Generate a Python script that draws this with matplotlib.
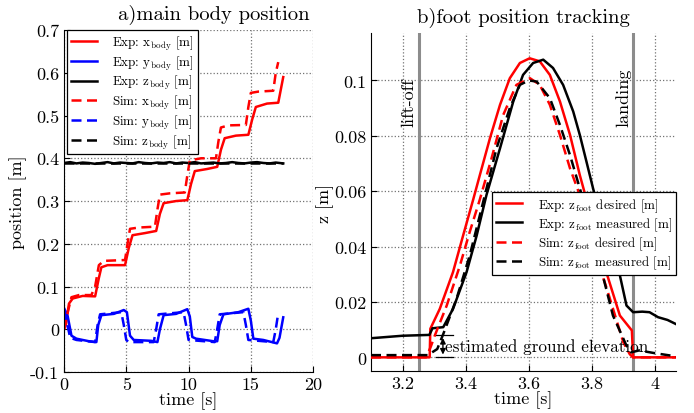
import numpy as np
import matplotlib
matplotlib.use("Agg")
import matplotlib.pyplot as plt
from matplotlib.ticker import FuncFormatter

plt.rcParams['font.family'] = ['cmr10', 'DejaVu Serif']
plt.rcParams['mathtext.fontset'] = 'cm'
plt.rcParams['axes.unicode_minus'] = False

# ---- a) main body position ----
t_xe = [0, 0.15, 0.4, 0.7, 1.5, 2.5, 2.8, 3.0, 3.5, 4.9, 5.2, 5.5, 6.5, 7.4, 7.7, 8.0, 9.0, 9.9,
        10.2, 10.5, 11.5, 12.3, 12.6, 12.9, 13.8, 14.8, 15.1, 15.4, 16.3, 17.2, 17.6]
x_exp = [0, 0.01, 0.06, 0.072, 0.078, 0.077, 0.12, 0.145, 0.15, 0.15, 0.19, 0.22, 0.225, 0.23, 0.27,
         0.295, 0.30, 0.302, 0.34, 0.37, 0.375, 0.38, 0.42, 0.447, 0.453, 0.455, 0.49, 0.52, 0.528,
         0.53, 0.59]
t_xs = [0, 0.3, 0.6, 1.2, 2.2, 2.5, 2.8, 3.2, 4.9, 5.1, 5.3, 6.0, 7.3, 7.5, 7.7, 8.5, 9.7, 9.9, 10.1,
        11.0, 12.2, 12.4, 12.6, 13.2, 14.6, 14.8, 15.0, 15.6, 16.8, 17.0, 17.2]
x_sim = [0, 0.04, 0.075, 0.08, 0.08, 0.1, 0.15, 0.16, 0.162, 0.2, 0.235, 0.238, 0.24, 0.28, 0.315,
         0.318, 0.32, 0.36, 0.395, 0.4, 0.4, 0.44, 0.472, 0.477, 0.478, 0.52, 0.553, 0.556, 0.558,
         0.60, 0.625]
t_ye = [0, 0.3, 0.6, 1.0, 2.0, 2.6, 2.75, 3.0, 4.0, 4.8, 5.05, 5.3, 5.6, 7.0, 7.5, 7.7, 8.0, 9.0,
        9.9, 10.1, 10.3, 10.6, 12.0, 12.3, 12.5, 12.8, 14.0, 14.8, 15.0, 15.2, 16.0, 17.1, 17.3, 17.6]
y_exp = [0.05, 0.03, -0.015, -0.022, -0.028, -0.03, 0.01, 0.033, 0.036, 0.045, 0.04, -0.015, -0.025,
         -0.027, -0.03, 0.0, 0.033, 0.036, 0.047, 0.03, -0.018, -0.022, -0.028, -0.028, 0.01, 0.035,
         0.04, 0.048, 0.02, -0.022, -0.025, -0.033, -0.02, 0.028]
t_ys = [0, 0.2, 0.5, 1.0, 2.5, 2.7, 2.9, 4.6, 4.8, 5.0, 5.2, 7.2, 7.4, 7.6, 9.6, 9.8, 10.0, 12.1,
        12.3, 12.5, 14.4, 14.6, 14.8, 16.8, 17.0, 17.2]
y_sim = [0.045, 0.02, -0.02, -0.025, -0.03, 0.01, 0.035, 0.04, 0.01, -0.025, -0.03, -0.03, 0.0,
         0.035, 0.04, 0.01, -0.025, -0.03, 0.0, 0.035, 0.04, 0.01, -0.025, -0.03, 0.0, 0.038]
t_z = [0, 0.5, 1.0, 1.5, 2.0, 2.5, 3.0, 3.5, 4.0, 4.5, 5.0, 5.5, 6.0, 6.5, 7.0, 7.5, 8.0, 8.5, 9.0,
       9.5, 10.0, 10.5, 11.0, 11.5, 12.0, 12.5, 13.0, 13.5, 14.0, 14.5, 15.0, 15.5, 16.0, 16.5,
       17.0, 17.6]
z_exp = [0.389, 0.391, 0.388, 0.39, 0.389, 0.387, 0.389, 0.391, 0.388, 0.39, 0.389, 0.388, 0.391,
         0.389, 0.388, 0.39, 0.389, 0.391, 0.388, 0.39, 0.389, 0.391, 0.388, 0.389, 0.39, 0.388,
         0.389, 0.391, 0.389, 0.388, 0.39, 0.391, 0.389, 0.388, 0.39, 0.388]
t_zs = [0, 17.6]
z_sim = [0.389, 0.389]

# ---- b) foot position tracking ----
t_de = [3.1, 3.286, 3.288, 3.318, 3.36, 3.392, 3.424, 3.445, 3.477, 3.509, 3.54, 3.572, 3.603,
        3.635, 3.667, 3.699, 3.731, 3.762, 3.794, 3.836, 3.889, 3.927, 3.931, 4.07]
z_de = [0, 0, 0.0103, 0.0175, 0.0308, 0.044, 0.057, 0.0658, 0.0791, 0.0912, 0.1008, 0.1063, 0.108,
        0.1069, 0.102, 0.0924, 0.0803, 0.0658, 0.0525, 0.0344, 0.0151, 0.0097, 0, 0]
t_me = [3.1, 3.2, 3.285, 3.295, 3.329, 3.36, 3.403, 3.435, 3.466, 3.509, 3.551, 3.582, 3.614, 3.646,
        3.677, 3.709, 3.741, 3.762, 3.783, 3.804, 3.846, 3.889, 3.91, 3.931, 3.96, 3.983, 4.01,
        4.04, 4.067]
z_me = [0.0069, 0.0078, 0.0081, 0.0105, 0.0109, 0.0175, 0.0308, 0.044, 0.0586, 0.0755, 0.0924,
        0.102, 0.1063, 0.1075, 0.1045, 0.0984, 0.0888, 0.0803, 0.0707, 0.061, 0.043, 0.0296,
        0.0187, 0.0163, 0.0165, 0.0163, 0.0145, 0.0135, 0.012]
t_ds = [3.1, 3.275, 3.29, 3.302, 3.34, 3.382, 3.413, 3.445, 3.482, 3.519, 3.561, 3.604, 3.635,
        3.667, 3.699, 3.731, 3.762, 3.815, 3.847, 3.9, 3.92, 3.93, 4.07]
z_ds = [0, 0, 0.004, 0.0078, 0.0187, 0.0332, 0.0453, 0.057, 0.0718, 0.0875, 0.0984, 0.1008,
        0.0984, 0.0912, 0.0803, 0.0682, 0.0586, 0.036, 0.025, 0.0054, 0.0012, 0, 0]
t_ms = [3.1, 3.28, 3.31, 3.329, 3.371, 3.413, 3.445, 3.498, 3.54, 3.572, 3.6, 3.625, 3.667, 3.699,
        3.731, 3.762, 3.783, 3.825, 3.867, 3.91, 3.925, 3.95, 4.0, 4.07]
z_ms = [0.0008, 0.0008, 0.003, 0.0084, 0.0211, 0.0368, 0.0513, 0.0755, 0.09, 0.0984, 0.1, 0.0996,
        0.0936, 0.0839, 0.073, 0.061, 0.053, 0.034, 0.0151, 0.0042, 0.0018, 0.0025, 0.0015, 0.0003]
t_liftoff = 3.252
t_landing = 3.932
ground_est = 0.008

fig = plt.figure(figsize=(6.94, 4.14), dpi=100)
ax1 = fig.add_axes([0.0922, 0.099, 0.359, 0.826])
ax2 = fig.add_axes([0.5346, 0.101, 0.4395, 0.816])

dash = (4, 2.2)
lw = 1.8
leg_kw = dict(borderaxespad=0, fontsize=9.4, handlelength=2.0, handletextpad=1.2,
              labelspacing=0.12, borderpad=0.3, fancybox=False, edgecolor='black', framealpha=1)

ax1.plot(t_xe, x_exp, color='red', lw=lw, label=r'Exp: x$_{\mathrm{body}}$ [m]')
ax1.plot(t_ye, y_exp, color='blue', lw=lw, label=r'Exp: y$_{\mathrm{body}}$ [m]')
ax1.plot(t_z, z_exp, color='black', lw=lw, label=r'Exp: z$_{\mathrm{body}}$ [m]')
ax1.plot(t_xs, x_sim, color='red', lw=lw, dashes=dash, label=r'Sim: x$_{\mathrm{body}}$ [m]')
ax1.plot(t_ys, y_sim, color='blue', lw=lw, dashes=dash, label=r'Sim: y$_{\mathrm{body}}$ [m]')
ax1.plot(t_zs, z_sim, color='black', lw=lw, dashes=dash, label=r'Sim: z$_{\mathrm{body}}$ [m]')
ax1.set_xlim(0, 20)
ax1.set_ylim(-0.1, 0.7)
ax1.set_xticks([0, 5, 10, 15, 20])
ax1.set_yticks(np.arange(-0.1, 0.71, 0.1))
ax1.set_xlabel('time [s]', fontsize=13, labelpad=-1)
ax1.set_ylabel('position [m]', fontsize=13, labelpad=2)
ax1.set_title('a)main body position', fontsize=14.8, x=0.6, pad=8)
leg1 = ax1.legend(loc='upper left', bbox_to_anchor=(0.011, 1.0), **leg_kw)
leg1.get_frame().set_linewidth(0.9)

ax2.axvline(t_liftoff, color='0.55', lw=2.2, zorder=1)
ax2.axvline(t_landing, color='0.55', lw=2.2, zorder=1)
ax2.plot(t_de, z_de, color='red', lw=lw, label=r'Exp: z$_{\mathrm{foot}}$ desired [m]', zorder=3)
ax2.plot(t_me, z_me, color='black', lw=lw, label=r'Exp: z$_{\mathrm{foot}}$ measured [m]', zorder=3)
ax2.plot(t_ds, z_ds, color='red', lw=lw, dashes=dash, label=r'Sim: z$_{\mathrm{foot}}$ desired [m]', zorder=3)
ax2.plot(t_ms, z_ms, color='black', lw=lw, dashes=dash, label=r'Sim: z$_{\mathrm{foot}}$ measured [m]', zorder=3)
ax2.text(t_liftoff - 0.008, 0.0925, 'lift-off', rotation=90, ha='right', va='center', fontsize=13)
ax2.text(t_landing - 0.008, 0.094, 'landing', rotation=90, ha='right', va='center', fontsize=13)
ax2.plot([3.306, 3.361], [ground_est, ground_est], color='black', lw=0.9)
ax2.plot([3.306, 3.361], [0, 0], color='black', lw=0.9)
ax2.annotate('', xy=(3.328, 0), xytext=(3.328, ground_est),
             arrowprops=dict(arrowstyle='<|-|>', color='black', lw=1, mutation_scale=8))
ax2.text(3.333, 0.0042, 'estimated ground elevation', fontsize=12.3, va='center', ha='left')
ax2.set_xlim(3.1, 4.067)
ax2.set_ylim(-0.005, 0.117)
ax2.set_xticks([3.2, 3.4, 3.6, 3.8, 4.0])
ax2.set_yticks([0, 0.02, 0.04, 0.06, 0.08, 0.1])
ax2.set_xlabel('time [s]', fontsize=13, labelpad=-1)
ax2.set_ylabel('z [m]', fontsize=13, labelpad=0)
ax2.set_title('b)foot position tracking', fontsize=14.8, pad=8)
leg2 = ax2.legend(loc='lower right', bbox_to_anchor=(1.0, 0.285), **leg_kw)
leg2.get_frame().set_linewidth(0.9)

fmt = FuncFormatter(lambda v, p: '%g' % round(v, 4))
for ax in (ax1, ax2):
    ax.xaxis.set_major_formatter(fmt)
    ax.yaxis.set_major_formatter(fmt)
    ax.spines['top'].set_visible(False)
    ax.spines['right'].set_visible(False)
    ax.grid(True, linestyle=':', color='0.45', lw=0.9)
    ax.set_axisbelow(True)
    ax.tick_params(direction='in', length=4, labelsize=13, top=False, right=False)

fig.savefig('out.png', dpi=100)
